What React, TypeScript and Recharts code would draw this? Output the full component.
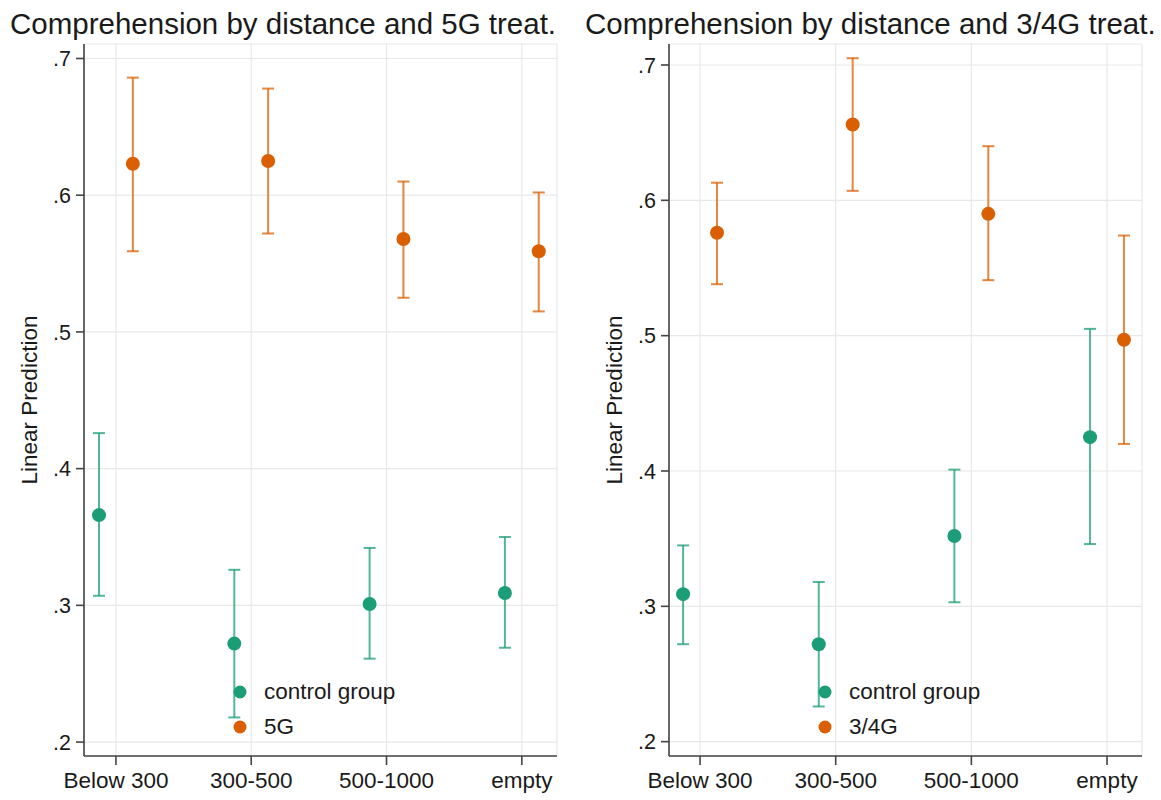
import React from 'react';
import { ScatterChart, Scatter, XAxis, YAxis, CartesianGrid, ErrorBar, Legend } from 'recharts';

const categories = ['Below 300', '300-500', '500-1000', 'empty'];
const yTicks = [0.2, 0.3, 0.4, 0.5, 0.6, 0.7];

const ctrl5Mean = [0.366, 0.272, 0.301, 0.309];
const ctrl5Low = [0.307, 0.218, 0.261, 0.269];
const ctrl5High = [0.426, 0.326, 0.342, 0.350];
const t5Mean = [0.623, 0.625, 0.568, 0.559];
const t5Low = [0.559, 0.572, 0.525, 0.515];
const t5High = [0.686, 0.678, 0.610, 0.602];

const ctrl34Mean = [0.309, 0.272, 0.352, 0.425];
const ctrl34Low = [0.272, 0.226, 0.303, 0.346];
const ctrl34High = [0.345, 0.318, 0.401, 0.505];
const t34Mean = [0.576, 0.656, 0.590, 0.497];
const t34Low = [0.538, 0.607, 0.541, 0.420];
const t34High = [0.613, 0.705, 0.640, 0.574];

const GREEN = '#1b9e77';
const ORANGE = '#d95f02';
const FONT = '"Liberation Sans", Arial, sans-serif';

function build(mean: number[], low: number[], high: number[], shift: number) {
  return mean.map((m, i) => ({
    x: i + 1 + shift,
    y: m,
    err: [m - low[i], high[i] - m],
  }));
}

const Dot = (color: string) => (props: any) => (
  <circle cx={props.cx} cy={props.cy} r={7} fill={color} />
);

function LegendBox({ items }: { items: { label: string; color: string }[] }) {
  return (
    <div style={{ fontFamily: FONT, fontSize: 22.5, color: '#1a1a1a' }}>
      {items.map((it) => (
        <div key={it.label} style={{ display: 'flex', alignItems: 'center', height: 35 }}>
          <svg width={33} height={16}>
            <circle cx={9} cy={8} r={6.5} fill={it.color} />
          </svg>
          <span>{it.label}</span>
        </div>
      ))}
    </div>
  );
}

type PanelProps = {
  left: number;
  width: number;
  title: string;
  titleLeft: number;
  yAxisWidth: number;
  rightMargin: number;
  xDomain: [number, number];
  yDomain: [number, number];
  ctrl: { x: number; y: number; err: number[] }[];
  treat: { x: number; y: number; err: number[] }[];
  treatName: string;
  legendLeft: number;
  labelX: number;
};

function Panel(p: PanelProps) {
  return (
    <div style={{ position: 'absolute', left: p.left, top: 0, width: p.width, height: 800 }}>
      <div
        style={{
          position: 'absolute',
          left: p.titleLeft - p.left,
          top: 7,
          fontFamily: FONT,
          fontSize: 29.5,
          color: '#1a1a1a',
          whiteSpace: 'nowrap',
          lineHeight: '34px',
        }}
      >
        {p.title}
      </div>
      <div
        style={{
          position: 'absolute',
          left: p.labelX - p.left - 100,
          top: 400 - 13,
          width: 200,
          height: 26,
          textAlign: 'center',
          transform: 'rotate(-90deg)',
          fontFamily: FONT,
          fontSize: 22.5,
          color: '#1a1a1a',
          lineHeight: '26px',
          whiteSpace: 'nowrap',
        }}
      >
        Linear Prediction
      </div>
      <ScatterChart
        width={p.width}
        height={800}
        margin={{ top: 44, right: p.rightMargin, bottom: 10, left: 0 }}
      >
        <CartesianGrid stroke="#e8e8e8" strokeWidth={1.2} />
        <XAxis
          type="number"
          dataKey="x"
          domain={p.xDomain}
          ticks={[1, 2, 3, 4]}
          tickFormatter={(v: number) => categories[Math.round(v) - 1]}
          allowDataOverflow
          height={34}
          tickSize={9}
          tickMargin={7}
          stroke="#444"
          strokeWidth={1.6}
          tick={{ fill: '#1a1a1a', fontSize: 22.5, fontFamily: FONT }}
          interval={0}
        />
        <YAxis
          type="number"
          dataKey="y"
          domain={p.yDomain}
          ticks={yTicks}
          allowDataOverflow
          width={p.yAxisWidth}
          tickSize={8}
          tickMargin={5}
          stroke="#444"
          strokeWidth={1.6}
          tickFormatter={(v: number) => '.' + Math.round(v * 10)}
          tick={{ fill: '#1a1a1a', fontSize: 21.5, fontFamily: FONT }}
          interval={0}
        />
        <Legend
          layout="vertical"
          align="center"
          verticalAlign="middle"
          wrapperStyle={{ left: p.legendLeft - p.left, top: 674, width: 'auto' }}
          content={() => (
            <LegendBox
              items={[
                { label: 'control group', color: GREEN },
                { label: p.treatName, color: ORANGE },
              ]}
            />
          )}
        />
        <Scatter name="control group" data={p.ctrl} fill={GREEN} shape={Dot(GREEN)} isAnimationActive={false}>
          <ErrorBar dataKey="err" direction="y" width={6} stroke={GREEN} strokeOpacity={0.75} strokeWidth={2} />
        </Scatter>
        <Scatter name={p.treatName} data={p.treat} fill={ORANGE} shape={Dot(ORANGE)} isAnimationActive={false}>
          <ErrorBar dataKey="err" direction="y" width={6} stroke={ORANGE} strokeOpacity={0.75} strokeWidth={2} />
        </Scatter>
      </ScatterChart>
    </div>
  );
}

export default function App() {
  const off = 0.125;
  return (
    <div style={{ position: 'absolute', left: 0, top: 0, width: 1161, height: 800, background: '#fff' }}>
      <Panel
        left={0}
        width={580}
        title="Comprehension by distance and 5G treat."
        titleLeft={10}
        yAxisWidth={84}
        rightMargin={23}
        xDomain={[0.764, 4.26]}
        yDomain={[0.1898, 0.7106]}
        ctrl={build(ctrl5Mean, ctrl5Low, ctrl5High, -off)}
        treat={build(t5Mean, t5Low, t5High, off)}
        treatName="5G"
        legendLeft={231}
        labelX={30}
      />
      <Panel
        left={580}
        width={581}
        title="Comprehension by distance and 3/4G treat."
        titleLeft={585}
        yAxisWidth={89}
        rightMargin={19}
        xDomain={[0.771, 4.258]}
        yDomain={[0.1894, 0.7155]}
        ctrl={build(ctrl34Mean, ctrl34Low, ctrl34High, -off)}
        treat={build(t34Mean, t34Low, t34High, off)}
        treatName="3/4G"
        legendLeft={816}
        labelX={615}
      />
    </div>
  );
}
